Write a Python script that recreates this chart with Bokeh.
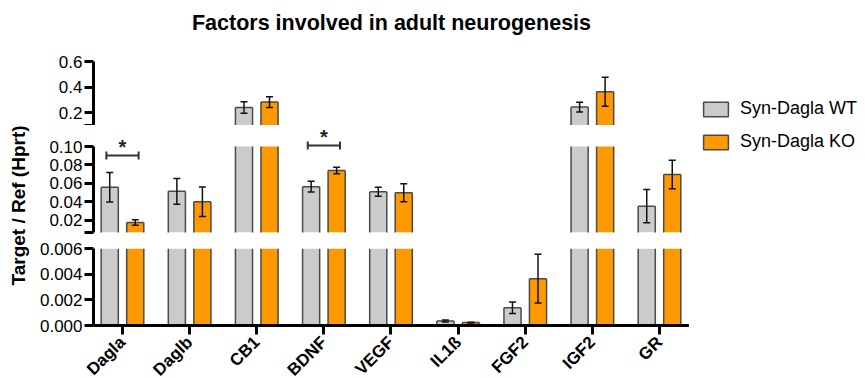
import numpy as np
from bokeh.plotting import figure
from bokeh.models import (Range1d, FixedTicker, Arrow, TeeHead, Label,
                          Legend, LegendItem)
from bokeh.layouts import row, column
from bokeh.embed import file_html
from bokeh.resources import INLINE

# ---------------- data ----------------
categories = ["Dagla", "Daglb", "CB1", "BDNF", "VEGF", "IL1ß", "FGF2", "IGF2", "GR"]
wt_mean = [0.0560, 0.0515, 0.2410, 0.0565, 0.0510, 0.00035, 0.00138, 0.2440, 0.0355]
wt_err = [0.0160, 0.0140, 0.0450, 0.0058, 0.0048, 0.00008, 0.00045, 0.0380, 0.0180]
ko_mean = [0.0178, 0.0402, 0.2830, 0.0740, 0.0500, 0.00023, 0.00365, 0.3640, 0.0697]
ko_err = [0.0030, 0.0160, 0.0420, 0.0036, 0.0098, 0.00003, 0.00190, 0.1130, 0.0153]
series_names = ["Syn-Dagla WT", "Syn-Dagla KO"]

# broken y axis: three segments
top_span = (0.1, 0.6)
top_ticks = [0.1, 0.2, 0.4, 0.6]
top_tick_labels = ["", "0.2", "0.4", "0.6"]
mid_span = (0.007, 0.1)
mid_ticks = [0.007, 0.02, 0.04, 0.06, 0.08, 0.1]
mid_tick_labels = ["", "0.02", "0.04", "0.06", "0.08", "0.10"]
bot_span = (0.0, 0.006)
bot_ticks = [0.0, 0.002, 0.004, 0.006]
bot_tick_labels = ["0.000", "0.002", "0.004", "0.006"]

sig_categories = ["Dagla", "BDNF"]
sig_levels = [0.0903, 0.1011]
sig_marks = ["*", "*"]

title_text = "Factors involved in adult neurogenesis"
y_title = "Target / Ref (Hprt)"

# ---------------- style / layout ----------------
FONT = "Liberation Sans"
GRAY = "#CBCBCB"
ORANGE = "#FF9900"
EDGE = "#4A4A4A"
ERR = "#111111"
FRAME_W = 596
LEFT = 56
OFF = 0.19
BW = 0.255
X0, X1 = -0.432, 8.447
PAGE_H = 378

n = len(categories)
xi = np.arange(n, dtype=float)
x_range = Range1d(X0, X1)


def base_fig(**kw):
    p = figure(output_backend="svg", toolbar_location=None, **kw)
    p.outline_line_color = None
    p.grid.visible = False
    p.background_fill_color = "white"
    p.border_fill_color = "white"
    return p


def draw_series(p, y0, y1):
    for means, errs, off, color in [(wt_mean, wt_err, -OFF, GRAY),
                                    (ko_mean, ko_err, OFF, ORANGE)]:
        m = np.array(means)
        e = np.array(errs)
        xs = xi + off
        show = m > y0
        ms = m[show]
        top = np.minimum(ms, y1)
        left = xs[show] - BW / 2
        right = xs[show] + BW / 2
        zero = np.zeros(len(ms))
        p.vbar(x=xs[show], top=top, bottom=zero, width=BW, fill_color=color, line_color=None)
        p.segment(x0=left, y0=zero, x1=left, y1=top, line_color=EDGE, line_width=1.5)
        p.segment(x0=right, y0=zero, x1=right, y1=top, line_color=EDGE, line_width=1.5)
        whole = ms <= y1
        p.segment(x0=left[whole], y0=ms[whole], x1=right[whole], y1=ms[whole],
                  line_color=EDGE, line_width=1.5)
        inseg = (m > y0) & (m <= y1)
        xe, me, ee = xs[inseg], m[inseg], e[inseg]
        p.segment(x0=xe, y0=me - ee, x1=xe, y1=me + ee, line_color=ERR, line_width=1.5)
        p.scatter(x=np.concatenate([xe, xe]), y=np.concatenate([me - ee, me + ee]),
                  marker="dash", size=7, line_color=ERR, line_width=1.5)


def style_yaxis(p, span, ticks, labels):
    ya = p.yaxis[0]
    ya.ticker = FixedTicker(ticks=ticks)
    ya.major_label_overrides = {t: l for t, l in zip(ticks, labels)}
    ya.bounds = span
    ya.axis_line_width = 3
    ya.major_tick_line_width = 3
    ya.major_tick_out = 9
    ya.major_tick_in = 0
    ya.minor_tick_line_color = None
    ya.major_label_standoff = 2
    ya.major_label_text_font = FONT
    ya.major_label_text_font_size = "17px"
    ya.major_label_text_color = "black"


def make_segment(span, ticks, labels, frame_h, border_top, border_bottom,
                 x_axis=False, extend_top_px=0):
    y0, y1 = span
    px_per_y = frame_h / (y1 - y0)
    p = base_fig(frame_width=FRAME_W, frame_height=frame_h + extend_top_px,
                 x_range=x_range,
                 y_range=Range1d(y0, y1 + extend_top_px / px_per_y),
                 x_axis_location="below" if x_axis else None,
                 min_border_left=LEFT, min_border_right=0,
                 min_border_top=border_top, min_border_bottom=border_bottom)
    style_yaxis(p, span, ticks, labels)
    draw_series(p, y0, y1)
    return p


# title panel
title_fig = base_fig(frame_width=FRAME_W, frame_height=1, x_range=x_range,
                     y_range=Range1d(0, 1), x_axis_location=None, y_axis_location=None,
                     min_border_left=LEFT - 4, min_border_right=4,
                     min_border_top=39, min_border_bottom=0)
title_fig.title.text = title_text
title_fig.title.align = "center"
title_fig.title.text_font = FONT
title_fig.title.text_font_size = "21.5px"
title_fig.title.text_font_style = "bold"
title_fig.title.text_color = "black"

top = make_segment(top_span, top_ticks, top_tick_labels, 64, 21, 0)
mid = make_segment(mid_span, mid_ticks, mid_tick_labels, 86, 0, 8, extend_top_px=21)
bot = make_segment(bot_span, bot_ticks, bot_tick_labels, 77, 8, 9, x_axis=True)

# category axis
xa = bot.xaxis[0]
xa.ticker = FixedTicker(ticks=list(range(n)))
xa.major_label_overrides = {i: c for i, c in enumerate(categories)}
xa.major_label_orientation = np.pi / 4
xa.axis_line_width = 3
xa.major_tick_line_width = 3
xa.major_tick_out = 9
xa.major_tick_in = 0
xa.minor_tick_line_color = None
xa.major_label_standoff = 5
xa.major_label_text_font = FONT
xa.major_label_text_font_size = "17px"
xa.major_label_text_font_style = "bold"
xa.major_label_text_color = "black"

# significance brackets
for cat, lvl, mark in zip(sig_categories, sig_levels, sig_marks):
    i = categories.index(cat)
    mid.add_layout(Arrow(x_start=i - 0.24, y_start=lvl, x_end=i + 0.24, y_end=lvl,
                         line_width=2, line_color="#333333",
                         start=TeeHead(size=8, line_width=2, line_color="#333333"),
                         end=TeeHead(size=8, line_width=2, line_color="#333333")))
    mid.add_layout(Label(x=i, y=lvl, text=mark, text_align="center",
                         text_baseline="middle", y_offset=8,
                         text_font=FONT, text_font_size="20px",
                         text_font_style="bold", text_color="#222222"))

# y-axis title panel
lab = base_fig(width=36, height=PAGE_H, x_range=Range1d(0, 1), y_range=Range1d(0, 1),
               x_axis_location=None, y_axis_location="left",
               min_border_left=28, min_border_right=0,
               min_border_top=48, min_border_bottom=66)
la = lab.yaxis[0]
la.ticker = FixedTicker(ticks=[])
la.axis_line_color = None
la.major_tick_line_color = None
la.minor_tick_line_color = None
la.major_tick_out = 0
la.major_label_standoff = 0
la.axis_label = y_title
la.axis_label_standoff = 0
la.axis_label_text_font = FONT
la.axis_label_text_font_size = "19px"
la.axis_label_text_font_style = "bold"
la.axis_label_text_color = "black"

# legend panel: the series are drawn here fully transparent (selection styling),
# only so the legend can borrow their normal styles for its swatches
leg = base_fig(width=177, height=PAGE_H, x_range=Range1d(X0, X1), y_range=Range1d(0, 1),
               x_axis_location=None, y_axis_location=None,
               min_border_left=11, min_border_top=98, min_border_right=0,
               min_border_bottom=0)
hidden = dict(selection_fill_alpha=0, selection_line_alpha=0,
              nonselection_fill_alpha=0, nonselection_line_alpha=0)
r1 = leg.vbar(x=xi - OFF, top=wt_mean, width=BW, fill_color=GRAY, line_color=EDGE,
              line_width=1.5, **hidden)
r2 = leg.vbar(x=xi + OFF, top=ko_mean, width=BW, fill_color=ORANGE, line_color=EDGE,
              line_width=1.5, **hidden)
r1.data_source.selected.indices = [0]
r2.data_source.selected.indices = [0]
legend = Legend(items=[LegendItem(label=series_names[0], renderers=[r1]),
                       LegendItem(label=series_names[1], renderers=[r2])],
                location="top_left", margin=0, padding=0, spacing=12,
                glyph_width=31, glyph_height=18, label_standoff=9,
                label_text_font=FONT, label_text_font_size="18px",
                label_text_color="black",
                border_line_color=None, background_fill_alpha=0)
leg.add_layout(legend)

layout = row(lab, column(title_fig, top, mid, bot), leg,
             styles={"overflow": "hidden", "max-height": f"{PAGE_H}px"})

open("out.html", "w").write(file_html(layout, INLINE))
